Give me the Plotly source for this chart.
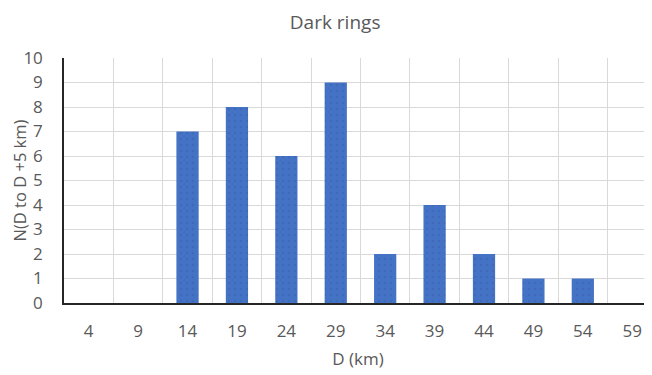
import plotly.graph_objects as go

categories = ["4", "9", "14", "19", "24", "29", "34", "39", "44", "49", "54", "59"]
counts = [0, 0, 7, 8, 6, 9, 2, 4, 2, 1, 1, 0]
y_ticks = list(range(0, 11))

font_family = "Open Sans, Liberation Sans, sans-serif"
text_color = "#595959"

fig = go.Figure(
    go.Bar(
        x=categories,
        y=counts,
        width=0.45,
        marker=dict(
            color="#4472C4",
            line=dict(color="#4472C4", width=0),
            pattern=dict(shape=".", fgcolor="#3A62AE", bgcolor="#4472C4", size=6, solidity=0.15),
        ),
    )
)

# page body has an 8px default margin, so the figure is sized 8px smaller
fig.update_layout(
    width=644,
    height=367,
    margin=dict(l=56, r=0, t=50, b=72, autoexpand=False),
    paper_bgcolor="white",
    plot_bgcolor="white",
    showlegend=False,
    title=dict(text="Dark rings", xref="container", x=0.508, xanchor="center",
               yref="container", y=0.962, yanchor="middle",
               font=dict(family=font_family, size=19, color=text_color)),
    font=dict(family=font_family, color=text_color),
    xaxis=dict(
        type="category",
        tickson="boundaries",
        range=[-0.5, 11.4],
        showgrid=True,
        gridcolor="#D9D9D9",
        gridwidth=1,
        showline=True,
        linecolor="#262626",
        linewidth=1.5,
        ticks="",
        ticklabelstandoff=12,
        tickfont=dict(size=17, color=text_color),
        title=dict(text="D (km)", font=dict(size=17, color=text_color), standoff=12),
    ),
    yaxis=dict(
        range=[0, 10],
        tickvals=y_ticks,
        showgrid=True,
        gridcolor="#D9D9D9",
        gridwidth=1,
        showline=True,
        linecolor="#262626",
        linewidth=1.5,
        zeroline=False,
        ticks="",
        ticklabelstandoff=16,
        tickfont=dict(size=17, color=text_color),
        title=dict(text="N(D to D +5 km)", font=dict(size=16.5, color=text_color), standoff=5),
    ),
)

fig.write_html("out.html")
